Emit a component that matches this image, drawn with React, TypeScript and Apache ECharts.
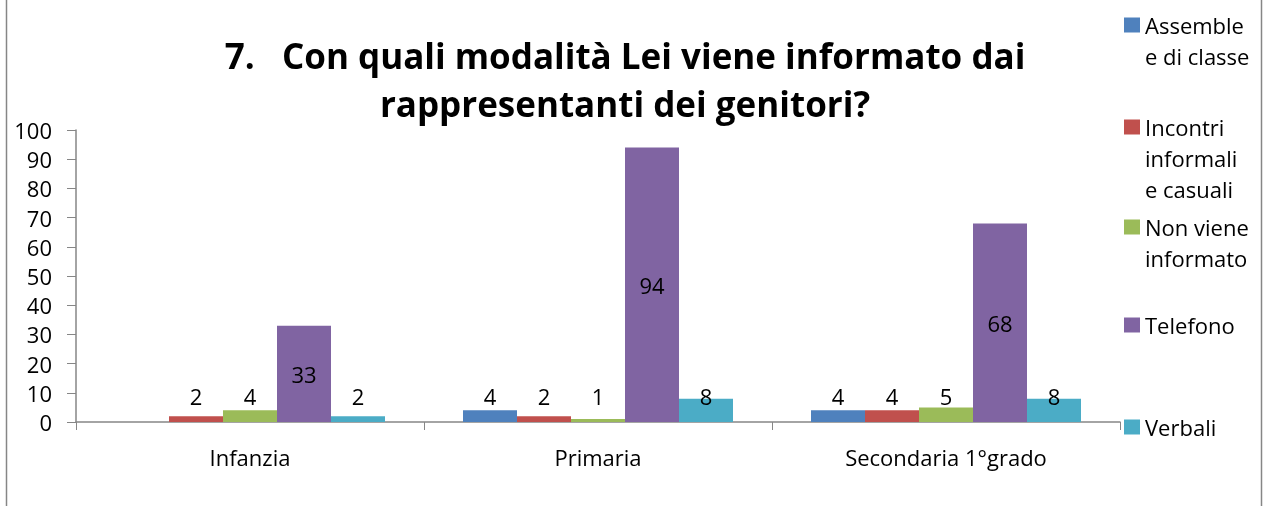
import React, { useEffect, useRef } from "react";
import * as echarts from "echarts";

const categories = ["Infanzia", "Primaria", "Secondaria 1°grado"];
const seriesNames = [
  "Assemblee di classe",
  "Incontri informali e casuali",
  "Non viene informato",
  "Telefono",
  "Verbali",
];
const legendLabels = ["Assemble\ne di classe", "Incontri\ninformali\ne casuali", "Non viene\ninformato", "Telefono", "Verbali"];
const assemblee = [null, 4, 4];
const incontri = [2, 2, 4];
const nonInformato = [4, 1, 5];
const telefono = [33, 94, 68];
const verbali = [2, 8, 8];
const yTicks = { min: 0, max: 100, interval: 10 };

const colors = ["#4F81BD", "#C0504D", "#9BBB59", "#8064A2", "#4BACC6"];
const FONT = "Open Sans";
const FS = 22;
const legendIconCenters = [25, 127, 227, 325, 427];
const LH = 31;

export default function App() {
  const ref = useRef<HTMLDivElement>(null);
  useEffect(() => {
    if (!ref.current) return;
    const chart = echarts.init(ref.current, undefined, { renderer: "svg" });
    const values = [assemblee, incontri, nonInformato, telefono, verbali];
    const legends = seriesNames.map((name, i) => {
      const n = legendLabels[i].split("\n").length;
      const text = " \n".repeat(n - 1) + legendLabels[i];
      return {
        data: [name],
        formatter: () => text,
        orient: "vertical",
        left: 1124,
        top: legendIconCenters[i] - ((2 * n - 1) * LH) / 2,
        padding: 0,
        itemWidth: 16,
        itemHeight: 15,
        icon: "rect",
        selectedMode: false,
        textStyle: {
          fontFamily: FONT,
          fontSize: FS,
          color: "#000",
          lineHeight: LH,
        },
      };
    });
    chart.setOption({
      animation: false,
      color: colors,
      title: {
        text: "7.   Con quali modalità Lei viene informato dai\nrappresentanti dei genitori?",
        left: 625,
        top: 31,
        textAlign: "center",
        padding: 0,
        textStyle: {
          fontFamily: FONT,
          fontWeight: "bold",
          fontSize: 35,
          lineHeight: 48,
          color: "#000",
        },
      },
      legend: legends,
      grid: { left: 76, right: 146, top: 130, bottom: 84, containLabel: false },
      xAxis: {
        type: "category",
        data: categories,
        axisLine: { lineStyle: { color: "#868686", width: 1.5 } },
        axisTick: { show: true, length: 8, alignWithLabel: false, lineStyle: { color: "#868686" } },
        axisLabel: { fontFamily: FONT, fontSize: FS, color: "#000", margin: 24 },
      },
      yAxis: {
        type: "value",
        min: yTicks.min,
        max: yTicks.max,
        interval: yTicks.interval,
        splitLine: { show: false },
        axisLine: { show: true, lineStyle: { color: "#868686", width: 1.5 } },
        axisTick: { show: true, length: 9, lineStyle: { color: "#868686" } },
        axisLabel: { fontFamily: FONT, fontSize: FS, color: "#000", margin: 24 },
      },
      series: seriesNames.map((name, i) => ({
        name,
        type: "bar",
        data: values[i],
        barWidth: 54,
        barGap: "0%",
        label: {
          show: true,
          position: i === 3 ? "inside" : "insideBottom",
          distance: i === 3 ? 0 : 15,
          fontFamily: FONT,
          fontSize: FS,
          lineHeight: FS,
          color: "#000",
          formatter: (p: any) => (p.value == null ? "" : String(p.value)),
        },
      })),
      graphic: [
        {
          type: "rect",
          shape: { x: 6.5, y: -10, width: 1255, height: 530 },
          style: { fill: "none", stroke: "#868686", lineWidth: 1.5 },
          silent: true,
          z: -1,
        },
      ],
    });
    return () => chart.dispose();
  }, []);
  return <div ref={ref} style={{ position: "fixed", left: 0, top: 0, width: 1266, height: 506 }} />;
}
